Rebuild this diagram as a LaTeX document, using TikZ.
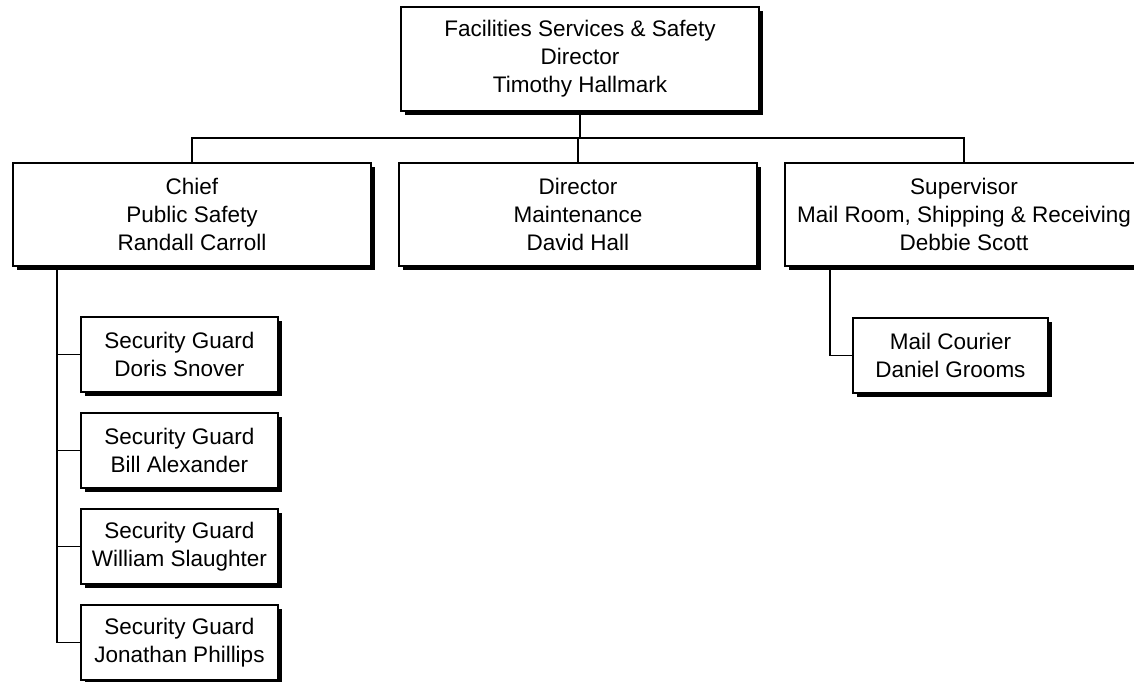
\documentclass[tikz,border=0pt]{standalone}
\usepackage{fontspec}
\setmainfont{Liberation Sans}
\usetikzlibrary{shadows}
\tikzset{
  unit/.style={draw, line width=1.3pt, fill=white, inner sep=0pt, align=center,
    font=\fontsize{22.5}{28}\selectfont,
    drop shadow={shadow xshift=4pt, shadow yshift=-4pt, fill=black, opacity=1}},
  head/.style={unit, minimum width=358pt, minimum height=104pt},
  staff/.style={unit, minimum width=197pt, minimum height=75pt},
  link/.style={line width=1.3pt}
}
\begin{document}
\begin{tikzpicture}[x=1pt,y=-1pt]
  \useasboundingbox (0,0) rectangle (1134,682);
  \clip (0,0) rectangle (1134,682);
  % top and second row
  \node[head] (dir) at (580,59) {Facilities Services \& Safety\\Director\\Timothy Hallmark};
  \node[head, minimum height=103pt] (chief) at (192,214.5) {Chief\\Public Safety\\Randall Carroll};
  \node[head, minimum height=103pt] (maint) at (578,214.5) {Director\\Maintenance\\David Hall};
  \node[head, minimum height=103pt] (sup) at (964,214.5) {Supervisor\\Mail Room, Shipping \& Receiving\\Debbie Scott};
  % staff
  \node[staff] (doris) at (179.5,354.5) {Security Guard\\Doris Snover};
  \node[staff] (bill) at (179.5,450.5) {Security Guard\\Bill Alexander};
  \node[staff] (william) at (179.5,546.5) {Security Guard\\William Slaughter};
  \node[staff] (jon) at (179.5,642.5) {Security Guard\\Jonathan Phillips};
  \node[staff, minimum width=195pt] (mail) at (950.5,355.5) {Mail Courier\\Daniel Grooms};
  % connectors
  \coordinate (bar) at (0,138);
  \coordinate (spine) at (57,0);
  \coordinate (mspine) at (830,0);
  \draw[link] (dir.south) -- (dir.south |- bar);
  \draw[link] (chief.north) |- (bar -| sup.north) -- (sup.north);
  \draw[link] (maint.north) -- (maint.north |- bar);
  \draw[link] (spine |- chief.south) |- (jon.west);
  \foreach \n in {doris,bill,william}
    \draw[link] (spine |- \n.west) -- (\n.west);
  \draw[link] (mspine |- sup.south) |- (mail.west);
\end{tikzpicture}
\end{document}
